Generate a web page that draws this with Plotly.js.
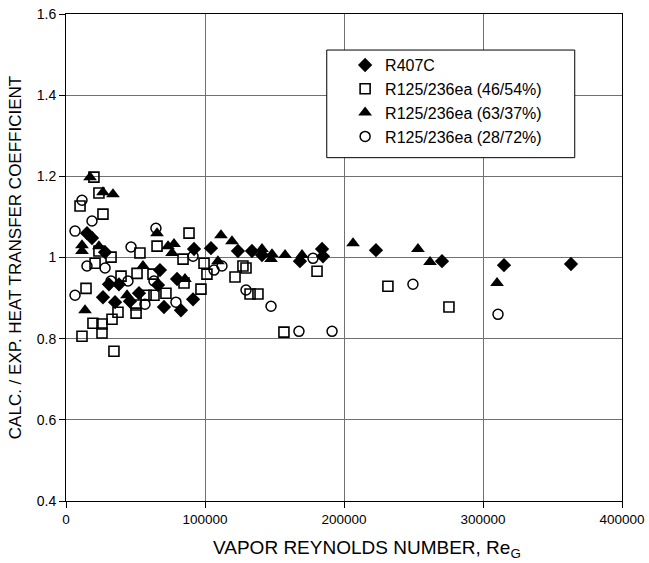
<!DOCTYPE html>
<html>
<head>
<meta charset="utf-8">
<script src="https://cdn.plot.ly/plotly-3.0.1.min.js"></script>
<style>html,body{margin:0;padding:0;background:#fff;}#chart{width:649px;height:563px;}</style>
</head>
<body>
<div id="chart"></div>
<script>
// R407C (filled diamonds)
const r407cX = [15100,18700,28100,30900,38100,26600,35300,46000,52500,67600,66200,70500,79900,82700,91400,92100,104300,123700,133800,141000,168300,184200,184900,223000,270500,315100,363300];
const r407cY = [1.060,1.048,1.013,0.934,0.934,0.902,0.890,0.892,0.912,0.969,0.932,0.878,0.947,0.870,0.897,1.021,1.023,1.016,1.016,1.006,0.991,1.021,1.003,1.018,0.991,0.981,0.984];

// R125/236ea (46/54%) (open squares)
const m4654X = [20100,23700,10100,26600,23700,32400,20900,53200,65500,88500,84200,99300,101400,127300,129500,121600,39600,51100,62600,84900,97100,14400,57600,63300,71900,132400,138100,50400,50400,37400,33100,19400,25900,11500,25900,34500,156800,180600,231600,275500];
const m4654Y = [1.198,1.159,1.127,1.107,1.016,1.001,0.986,1.011,1.028,1.060,0.996,0.986,0.959,0.979,0.974,0.952,0.954,0.961,0.959,0.937,0.922,0.924,0.907,0.907,0.912,0.910,0.910,0.883,0.863,0.865,0.848,0.838,0.836,0.806,0.814,0.769,0.816,0.966,0.929,0.878];

// R125/236ea (63/37%) (filled triangles)
const m6337X = [17300,26600,33800,11500,11500,23700,65500,73400,77700,76300,55400,85600,43900,13700,111500,119400,109300,141000,148200,147500,157600,169800,206500,253200,261900,310100];
const m6337Y = [1.198,1.161,1.156,1.030,1.016,1.028,1.060,1.028,1.033,1.011,0.979,0.947,0.907,0.870,1.055,1.040,0.991,1.021,1.008,0.996,1.006,1.006,1.035,1.021,0.989,0.937];

// R125/236ea (28/72%) (open circles)
const m2872X = [6500,11500,18700,15100,28100,32400,44600,46800,63300,64700,6500,56800,79100,91400,112200,106500,129500,147500,167600,191400,177700,249600,310800];
const m2872Y = [1.065,1.141,1.090,0.979,0.974,0.942,0.942,1.026,0.942,1.072,0.907,0.885,0.890,1.003,0.979,0.969,0.920,0.880,0.818,0.818,0.998,0.934,0.860];

const seriesNames = ['R407C','R125/236ea (46/54%)','R125/236ea (63/37%)','R125/236ea (28/72%)'];
const xTicks = [0,100000,200000,300000,400000];
const yTicks = [0.4,0.6,0.8,1,1.2,1.4,1.6];
const xTitle = 'VAPOR REYNOLDS NUMBER, Re<sub>G</sub>';
const yTitle = 'CALC. / EXP. HEAT TRANSFER COEFFICIENT';

const traces = [
  {x:r407cX, y:r407cY, name:seriesNames[0], type:'scatter', mode:'markers',
   marker:{symbol:'diamond', size:11, color:'#000', line:{width:0}}},
  {x:m4654X, y:m4654Y, name:seriesNames[1], type:'scatter', mode:'markers',
   marker:{symbol:'square-open', size:10, color:'#000', line:{width:1.6}}},
  {x:m6337X, y:m6337Y, name:seriesNames[2], type:'scatter', mode:'markers',
   marker:{symbol:'triangle-up', size:12, color:'#000', line:{width:0}}},
  {x:m2872X, y:m2872Y, name:seriesNames[3], type:'scatter', mode:'markers',
   marker:{symbol:'circle-open', size:10, color:'#000', line:{width:1.5}}}
];

const font = {family:'Liberation Sans, Arial, sans-serif', color:'#000'};

const layout = {
  width:649, height:563,
  margin:{l:66, r:27, t:14, b:62},
  paper_bgcolor:'#fff', plot_bgcolor:'#fff',
  font:Object.assign({size:13}, font),
  showlegend:true,
  legend:{x:0.502, y:0.93, xanchor:'left', yanchor:'top', bgcolor:'rgba(0,0,0,0)', borderwidth:0,
          font:Object.assign({size:16}, font), tracegroupgap:0, itemwidth:30},
  xaxis:{range:[0,400000], tickvals:xTicks, ticktext:xTicks.map(String), showgrid:true,
         gridcolor:'#707070', gridwidth:1, zeroline:false, showline:true, linecolor:'#000', linewidth:1,
         mirror:true, ticks:'outside', ticklen:6, tickcolor:'#000',
         tickfont:Object.assign({size:13.5}, font)},
  yaxis:{range:[0.4,1.6], tickvals:yTicks, ticktext:yTicks.map(String), showgrid:true,
         gridcolor:'#707070', gridwidth:1, zeroline:false, showline:true, linecolor:'#000', linewidth:1,
         mirror:true, ticks:'outside', ticklen:6, tickcolor:'#000',
         tickfont:Object.assign({size:14}, font),
         title:{text:yTitle, font:Object.assign({size:17}, font), standoff:10}},
  annotations:[{text:xTitle, xref:'paper', yref:'paper', x:0.541, y:-0.099, xanchor:'center', yanchor:'middle',
                showarrow:false, font:Object.assign({size:19}, font)}],
  shapes:[{type:'rect', xref:'paper', yref:'paper', x0:0.469, x1:0.915, y0:0.705, y1:0.926,
           fillcolor:'#fff', line:{color:'#000', width:1}, layer:'above'}]
};

Plotly.newPlot('chart', traces, layout, {displayModeBar:false, staticPlot:true});
</script>
</body>
</html>
